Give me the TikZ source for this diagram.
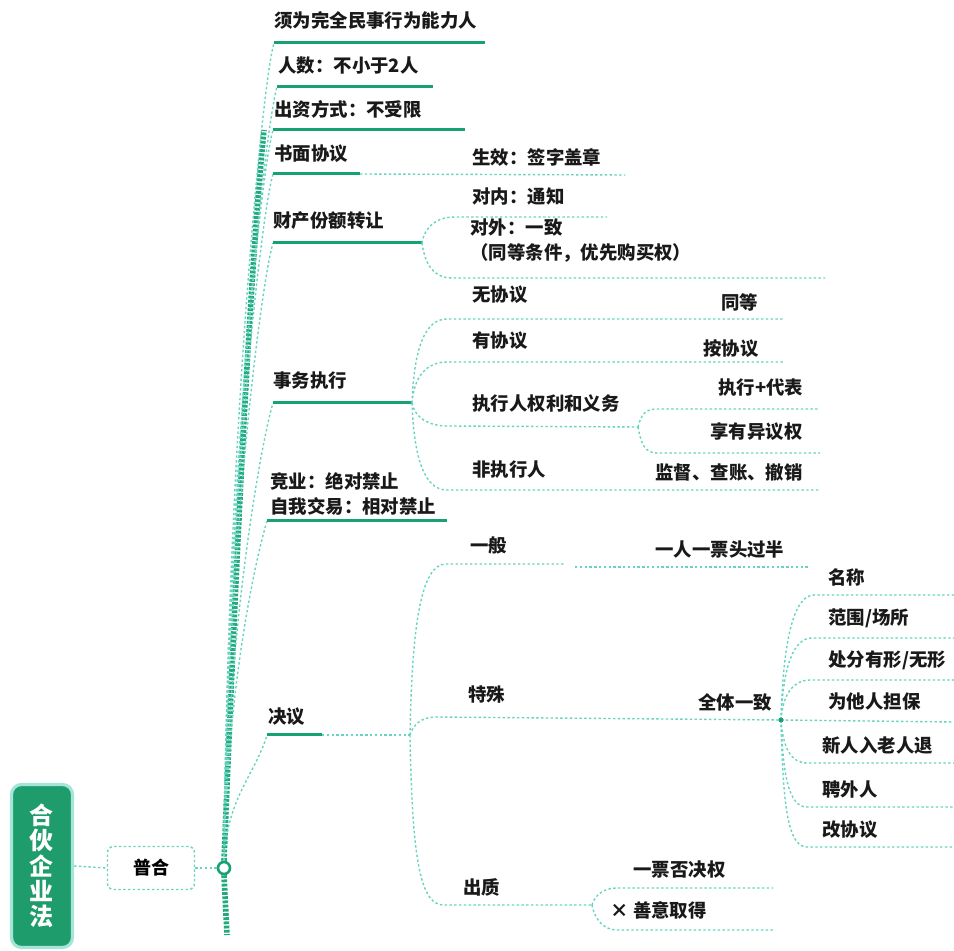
\documentclass[tikz,border=0pt]{standalone}
\usepackage{fontspec}
\newfontfamily\cjk{Noto Sans CJK SC}
\usetikzlibrary{positioning}
\definecolor{zgreen}{HTML}{17A273}
\definecolor{zlight}{HTML}{66D4BF}
\definecolor{zroot}{HTML}{1F9C6B}
\tikzset{
  txt/.style={font=\cjk\bfseries\fontsize{9.2}{12.5}\selectfont, inner sep=0pt, anchor=west, align=left, text=black!90},
  uline/.style={draw=zgreen, line width=1.5pt},
  dline/.style={draw=zlight, line width=0.7pt, dash pattern=on 1.2pt off 1.2pt},
  trunk/.style={draw=zgreen!85!zlight, line width=2.8pt, dash pattern=on 1.4pt off 0.7pt},
  rootbox/.style={draw=zlight!60, line width=1.6pt, fill=zroot, rounded corners=5pt, minimum width=30.5pt, minimum height=81.5pt, text=white, align=center, font=\cjk\bfseries\fontsize{12}{12.6}\selectfont},
  kindbox/.style={draw=zlight, line width=0.7pt, dash pattern=on 1.2pt off 1.2pt, rounded corners=3pt, minimum width=43.5pt, minimum height=21.5pt, font=\cjk\bfseries\fontsize{9}{11}\selectfont},
  hubring/.style={circle, draw=zgreen, line width=1.3pt, fill=white, minimum size=6pt, inner sep=0pt}
}
\begin{document}
\begin{tikzpicture}[x=0.5pt,y=-0.5pt]
\useasboundingbox (0,0) rectangle (954,951);

\node[rootbox] (law) at (42,866) {合\\伙\\企\\业\\法};
\node[kindbox] (puhe) at (151,868) {普合};
\node[hubring] (hub) at (224,868) {};
\coordinate (tail) at (227,935);
\coordinate (top) at (264,130);
\draw[dline] (law.east) -- (puhe.west);
\draw[dline] (puhe.east) -- (hub.west);
\draw[trunk] (hub.south) -- (tail);
\draw[trunk] (hub.north) .. controls (236,560) and (250,270) .. (top);

% first level
\coordinate (s1) at (274,43);  \coordinate (e1) at (485,43);
\coordinate (s2) at (277,87);  \coordinate (e2) at (433,87);
\coordinate (s3) at (273,130); \coordinate (e3) at (465,130);
\coordinate (s4) at (273,174); \coordinate (e4) at (360,174);
\coordinate (s5) at (273,243); \coordinate (e5) at (422,243);
\coordinate (s6) at (273,403); \coordinate (e6) at (412,403);
\coordinate (s7) at (267,521); \coordinate (e7) at (447,521);
\coordinate (s8) at (267,735); \coordinate (e8) at (322,735);
\foreach \s/\h in {s1/819, s2/775, s3/732, s4/688, s5/619, s6/459, s7/341, s8/127}
  \draw[dline] (hub.north) .. controls +(3,{-\h*0.5}) and +(-12,40) .. (\s);
\foreach \i in {1,...,8}
  \draw[uline] (s\i) -- (e\i);

\node[txt] (qual) at (274,20) {须为完全民事行为能力人};
\node[txt] (num) at (278,66) {人数：不小于2人};
\node[txt] (contrib) at (274,109) {出资方式：不受限};
\node[txt] (written) at (274,154) {书面协议};
\node[txt] (transfer) at (273,221) {财产份额转让};
\node[txt] (affairs) at (273,381) {事务执行};
\node[txt] (compete) at (270,494) {竞业：绝对禁止\\自我交易：相对禁止};
\node[txt] (resolve) at (268,717) {决议};

% written agreement
\coordinate (f4) at (625,175);
\draw[dline] (e4) -- (f4);
\node[txt] (effect) at (472,157) {生效：签字盖章};

% transfer
\coordinate (q51) at (455,217); \coordinate (f51) at (607,217);
\coordinate (q52) at (452,278); \coordinate (f52) at (825,278);
\draw[dline] (e5) .. controls +(3,-17) and +(-18,0) .. (q51) -- (f51);
\draw[dline] (e5) .. controls +(3,22) and +(-18,0) .. (q52) -- (f52);
\node[txt] (inner) at (472,197) {对内：通知};
\node[txt] (outer) at (470,241) {对外：一致\\（同等条件，优先购买权）};

% affairs
\coordinate (q61) at (447,319); \coordinate (f61) at (783,319);
\coordinate (q62) at (447,362); \coordinate (f62) at (785,362);
\coordinate (q63) at (447,426); \coordinate (r63) at (638,427);
\coordinate (q64) at (447,490); \coordinate (f64) at (820,490);
\coordinate (q631) at (657,409); \coordinate (f631) at (820,409);
\coordinate (q632) at (657,453); \coordinate (f632) at (820,453);
\draw[dline] (e6) .. controls +(2,-55) and +(-22,0) .. (q61) -- (f61);
\draw[dline] (e6) .. controls +(2,-27) and +(-20,0) .. (q62) -- (f62);
\draw[dline] (e6) .. controls +(3,15) and +(-18,0) .. (q63) -- (r63);
\draw[dline] (e6) .. controls +(2,57) and +(-22,0) .. (q64) -- (f64);
\draw[dline] (r63) .. controls +(3,-12) and +(-12,0) .. (q631) -- (f631);
\draw[dline] (r63) .. controls +(3,17) and +(-12,0) .. (q632) -- (f632);
\node[txt] (noagr) at (472,295) {无协议};
\node[txt] (equal) at (721,302) {同等};
\node[txt] (agr) at (472,341) {有协议};
\node[txt] (byagr) at (703,349) {按协议};
\node[txt] (exec) at (472,404) {执行人权利和义务};
\node[txt] (execrep) at (718,388) {执行+代表};
\node[txt] (object) at (710,432) {享有异议权};
\node[txt] (nonexec) at (472,470) {非执行人};
\node[txt] (audit) at (655,472) {监督、查账、撤销};

% resolution
\coordinate (h8) at (410,735);
\draw[dline] (e8) -- (h8);
\coordinate (q81) at (446,564); \coordinate (r81) at (564,564);
\coordinate (t81) at (575,567); \coordinate (f81) at (808,567);
\coordinate (q82) at (436,717); \coordinate (h82) at (781,720);
\coordinate (q83) at (443,905); \coordinate (h83) at (592,905);
\draw[dline] (h8) .. controls +(2,-110) and +(-25,0) .. (q81) -- (r81);
\draw[dline] (t81) -- (f81);
\draw[dline] (h8) .. controls +(3,-10) and +(-15,0) .. (q82) -- (h82);
\draw[dline] (h8) .. controls +(2,110) and +(-25,0) .. (q83) -- (h83);
\node[txt] (general) at (470,545) {一般};
\node[txt] (headcount) at (655,550) {一人一票头过半};
\node[txt] (special) at (468,695) {特殊};
\node[txt] (unanim) at (698,702) {全体一致};
\node[txt] (pledge) at (463,887) {出质};

\coordinate (k1) at (814,595); \coordinate (k2) at (812,638);
\coordinate (k3) at (810,680); \coordinate (k5) at (807,763);
\coordinate (k6) at (807,807); \coordinate (k7) at (807,847);
\draw[dline] (h82) .. controls +(2,-80) and +(-20,0) .. (k1) -- (954,595);
\draw[dline] (h82) .. controls +(2,-55) and +(-18,0) .. (k2) -- (954,638);
\draw[dline] (h82) .. controls +(2,-27) and +(-16,0) .. (k3) -- (954,680);
\draw[dline] (h82) -- (954,722);
\draw[dline] (h82) .. controls +(2,28) and +(-16,0) .. (k5) -- (954,763);
\draw[dline] (h82) .. controls +(2,57) and +(-18,0) .. (k6) -- (954,807);
\draw[dline] (h82) .. controls +(2,82) and +(-20,0) .. (k7) -- (954,847);
\fill[zgreen] (h82) circle (1.3pt);
\node[txt] (name) at (828,577) {名称};
\node[txt] (scope) at (828,618) {范围/场所};
\node[txt] (dispose) at (828,660) {处分有形/无形};
\node[txt] (guar) at (828,702) {为他人担保};
\node[txt] (admit) at (822,745) {新人入老人退};
\node[txt] (hire) at (822,790) {聘外人};
\node[txt] (amend) at (822,830) {改协议};

\coordinate (q831) at (617,888); \coordinate (f831) at (773,888);
\coordinate (q832) at (617,930); \coordinate (f832) at (773,930);
\draw[dline] (h83) .. controls +(3,-11) and +(-12,0) .. (q831) -- (f831);
\draw[dline] (h83) .. controls +(3,16) and +(-12,0) .. (q832) -- (f832);
\node[txt] (veto) at (633,870) {一票否决权};
\node[txt] (goodfaith) at (610,910) {× 善意取得};
\end{tikzpicture}
\end{document}
